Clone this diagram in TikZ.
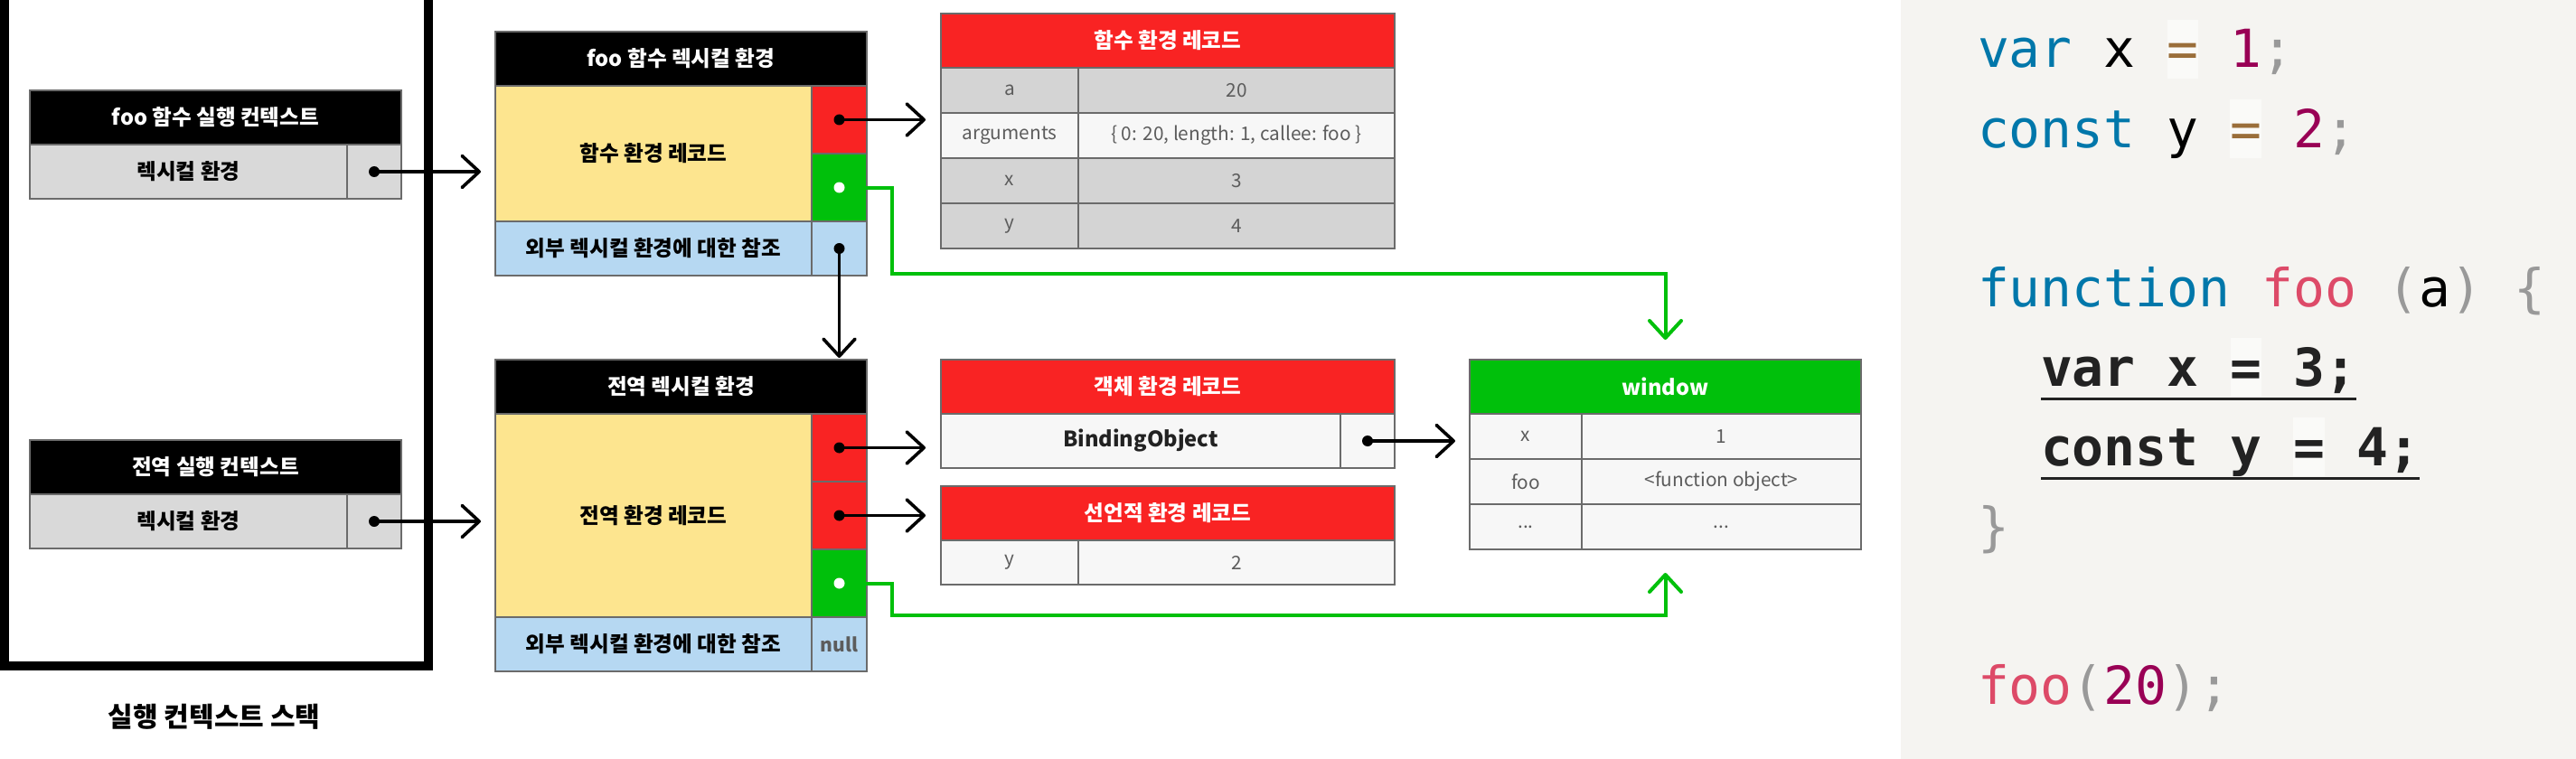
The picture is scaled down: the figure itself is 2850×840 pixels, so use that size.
\documentclass[tikz,border=0pt]{standalone}
\usepackage{fontspec}
\setmainfont{Noto Sans CJK KR}
\newfontfamily\codefont{DejaVu Sans Mono}
\usepackage{tikz}
\usetikzlibrary{arrows.meta, positioning, calc}
\usepackage{xcolor}
\definecolor{edge}{HTML}{6B6B6B}
\definecolor{rowgray}{HTML}{D9D9D9}
\definecolor{tablegray}{HTML}{D4D4D4}
\definecolor{tablelight}{HTML}{F7F7F7}
\definecolor{recyellow}{HTML}{FDE58F}
\definecolor{recred}{HTML}{F92323}
\definecolor{recgreen}{HTML}{00C00B}
\definecolor{outerblue}{HTML}{B6D8F2}
\definecolor{valgray}{HTML}{5C5C5C}
\definecolor{codebg}{HTML}{F5F4F1}
\definecolor{eqbg}{HTML}{FAFAF8}
\definecolor{kwblue}{HTML}{0077AA}
\definecolor{numred}{HTML}{990055}
\definecolor{fnpink}{HTML}{DD4A68}
\definecolor{opbrown}{HTML}{9A6E3A}
\definecolor{punctgray}{HTML}{999999}
\definecolor{codeink}{HTML}{222222}
\newcommand{\eqhl}[1]{{\setlength{\fboxsep}{0pt}\colorbox{eqbg}{\rule[-6pt]{0pt}{32.5pt}#1}}}

\tikzset{
  cell/.style={draw=edge, line width=1pt, inner sep=0pt, outer sep=0pt, anchor=north west, align=center},
  labelfont/.style={font=\bfseries\fontsize{11.8}{14}\selectfont},
  blackhead/.style={cell, labelfont, fill=black, text=white, minimum height=30pt},
  redhead/.style={cell, labelfont, fill=recred, text=white, minimum width=251pt, minimum height=30pt},
  lexrow/.style={cell, labelfont, fill=rowgray, minimum height=30pt},
  recbody/.style={cell, labelfont, fill=recyellow, minimum width=175pt},
  slot/.style={cell, minimum width=30.5pt, minimum height=37.5pt},
  outerrow/.style={cell, labelfont, fill=outerblue, minimum height=30pt},
  keycell/.style={cell, text=valgray, font=\fontsize{10.4}{12}\selectfont, minimum width=76pt, minimum height=25pt},
  valcell/.style={keycell, minimum width=175pt},
  ptrdot/.style={circle, fill=black, inner sep=0pt, minimum size=6pt},
  hole/.style={circle, fill=white, inner sep=0pt, minimum size=6pt},
  link/.style={line width=1.8pt, shorten >=8pt, -{Straight Barb[length=9.5pt, width=17.5pt, round]}},
  glink/.style={link, draw=recgreen, line width=2pt},
  codeline/.style={anchor=base west, inner sep=0pt, outer sep=0pt, font=\codefont\fontsize{29}{35}\selectfont}
}

\begin{document}
\begin{tikzpicture}[x=0.5pt, y=-0.5pt]
\useasboundingbox (0,0) rectangle (2850,840);
\fill[codebg] (2103,0) rectangle (2850,840);

% execution context stack
\draw[line width=5pt] (5,0) -- (5,736.5) -- (474,736.5) -- (474,0);
\node[blackhead, minimum width=205.5pt] (fooctx) at (33,100) {foo 함수 실행 컨텍스트};
\node[lexrow, minimum width=175.5pt] (fooctxlex) at (fooctx.south west) {렉시컬 환경};
\node[lexrow, minimum width=30pt] (fooctxptr) at (fooctxlex.north east) {};
\node[blackhead, minimum width=205.5pt] (globalctx) at (33,487) {전역 실행 컨텍스트};
\node[lexrow, minimum width=175.5pt] (globalctxlex) at (globalctx.south west) {렉시컬 환경};
\node[lexrow, minimum width=30pt] (globalctxptr) at (globalctxlex.north east) {};
\node[font=\bfseries\fontsize{15}{18}\selectfont] (stacklabel) at (237,793) {실행 컨텍스트 스택};

% foo lexical environment
\node[blackhead, minimum width=205.5pt] (fooenv) at (548,35) {foo 함수 렉시컬 환경};
\node[recbody, minimum height=75pt] (foorec) at (fooenv.south west) {함수 환경 레코드};
\node[slot, fill=recred] (fooslotfn) at (foorec.north east) {};
\node[slot, fill=recgreen] (fooslotwin) at (fooslotfn.south west) {};
\node[outerrow, minimum width=175pt] (fooouter) at (foorec.south west) {외부 렉시컬 환경에 대한 참조};
\node[outerrow, minimum width=30.5pt] (fooouterptr) at (fooouter.north east) {};

% global lexical environment
\node[blackhead, minimum width=205.5pt] (globalenv) at (548,398) {전역 렉시컬 환경};
\node[recbody, minimum height=112.5pt] (globalrec) at (globalenv.south west) {전역 환경 레코드};
\node[slot, fill=recred] (globalslotobj) at (globalrec.north east) {};
\node[slot, fill=recred] (globalslotdecl) at (globalslotobj.south west) {};
\node[slot, fill=recgreen] (globalslotwin) at (globalslotdecl.south west) {};
\node[outerrow, minimum width=175pt] (globalouter) at (globalrec.south west) {외부 렉시컬 환경에 대한 참조};
\node[outerrow, minimum width=30.5pt, text=valgray, font=\bfseries\fontsize{10.5}{12}\selectfont] (globalnull) at (globalouter.north east) {null};

% function environment record
\node[redhead] (funcrec) at (1041,15) {함수 환경 레코드};
\node[keycell, fill=tablegray] (fnkeya) at (funcrec.south west) {a};
\node[valcell, fill=tablegray] (fnvala) at (fnkeya.north east) {20};
\node[keycell, fill=tablelight] (fnkeyargs) at (fnkeya.south west) {arguments};
\node[valcell, fill=tablelight] (fnvalargs) at (fnkeyargs.north east) {\{ 0: 20, length: 1, callee: foo \}};
\node[keycell, fill=tablegray] (fnkeyx) at (fnkeyargs.south west) {x};
\node[valcell, fill=tablegray] (fnvalx) at (fnkeyx.north east) {3};
\node[keycell, fill=tablegray] (fnkeyy) at (fnkeyx.south west) {y};
\node[valcell, fill=tablegray] (fnvaly) at (fnkeyy.north east) {4};

% object / declarative environment records
\node[redhead] (objrec) at (1041,398) {객체 환경 레코드};
\node[cell, labelfont, fill=tablelight, text=codeink, minimum width=221pt, minimum height=30pt] (objbinding) at (objrec.south west) {BindingObject};
\node[cell, fill=tablelight, minimum width=30pt, minimum height=30pt] (objptr) at (objbinding.north east) {};
\node[redhead] (declrec) at (1041,538) {선언적 환경 레코드};
\node[keycell, fill=tablelight, minimum height=24.5pt] (declkeyy) at (declrec.south west) {y};
\node[valcell, fill=tablelight, minimum height=24.5pt] (declvaly) at (declkeyy.north east) {2};

% global object
\node[cell, labelfont, fill=recgreen, text=white, minimum width=216.5pt, minimum height=30pt] (window) at (1626,398) {window};
\node[keycell, fill=tablelight, minimum width=62pt] (winkeyx) at (window.south west) {x};
\node[valcell, fill=tablelight, minimum width=154.5pt] (winvalx) at (winkeyx.north east) {1};
\node[keycell, fill=tablelight, minimum width=62pt] (winkeyfoo) at (winkeyx.south west) {foo};
\node[valcell, fill=tablelight, minimum width=154.5pt] (winvalfoo) at (winkeyfoo.north east) {<function object>};
\node[keycell, fill=tablelight, minimum width=62pt] (winkeymore) at (winkeyfoo.south west) {...};
\node[valcell, fill=tablelight, minimum width=154.5pt] (winvalmore) at (winkeymore.north east) {...};

% pointers
\coordinate (upbend) at (987,303);
\coordinate (lowbend) at (987,681);
\node[ptrdot] (fooctxdot) at (fooctxptr.center) {};
\node[ptrdot] (globalctxdot) at (globalctxptr.center) {};
\node[ptrdot] (foofndot) at (fooslotfn.center) {};
\node[hole] (foowindot) at (fooslotwin.center) {};
\node[ptrdot] (foooutdot) at (fooouterptr.center) {};
\node[ptrdot] (globalobjdot) at (globalslotobj.center) {};
\node[ptrdot] (globaldecldot) at (globalslotdecl.center) {};
\node[hole] (globalwindot) at (globalslotwin.center) {};
\node[ptrdot] (objdot) at (objptr.center) {};

\draw[link] (fooctxdot.center) -- (fooctxdot -| foorec.west);
\draw[link] (globalctxdot.center) -- (globalctxdot -| globalrec.west);
\draw[link, shorten >=8.5pt] (foofndot.center) -- (foofndot -| funcrec.west);
\draw[link, shorten >=8.5pt] (globalobjdot.center) -- (globalobjdot -| objrec.west);
\draw[link, shorten >=8.5pt] (globaldecldot.center) -- (globaldecldot -| declrec.west);
\draw[link] (objdot.center) -- (objdot -| window.west);
\draw[link, shorten >=1pt] (foooutdot.center) -- (foooutdot |- globalenv.north);
\draw[glink, shorten >=11pt] (foowindot.east) -| (upbend) -| (window.north);
\draw[glink, shorten >=13pt] (globalwindot.east) -| (lowbend) -| (window.center |- winkeymore.south);

% source code
\node[codeline] (code1) at (2188,75) {\textcolor{kwblue}{var} x \eqhl{\textcolor{opbrown}{=}} \textcolor{numred}{1}\textcolor{punctgray}{;}};
\node[codeline] (code2) at (2188,163) {\textcolor{kwblue}{const} y \eqhl{\textcolor{opbrown}{=}} \textcolor{numred}{2}\textcolor{punctgray}{;}};
\node[codeline] (code4) at (2188,339) {\textcolor{kwblue}{function} \textcolor{fnpink}{foo} \textcolor{punctgray}{(}a\textcolor{punctgray}{)} \textcolor{punctgray}{\{}};
\node[codeline, text=codeink] (code5) at (2258,427) {\bfseries var x \eqhl{=} 3;};
\node[codeline, text=codeink] (code6) at (2258,515) {\bfseries const y \eqhl{=} 4;};
\node[codeline] (code7) at (2188,603) {\textcolor{punctgray}{\}}};
\node[codeline] (code9) at (2188,779) {\textcolor{fnpink}{foo}\textcolor{punctgray}{(}\textcolor{numred}{20}\textcolor{punctgray}{);}};
\draw[codeink, line width=1.5pt] ([yshift=-7pt]code5.base west) -- ([yshift=-7pt]code5.base east);
\draw[codeink, line width=1.5pt] ([yshift=-7pt]code6.base west) -- ([yshift=-7pt]code6.base east);
\end{tikzpicture}
\end{document}
